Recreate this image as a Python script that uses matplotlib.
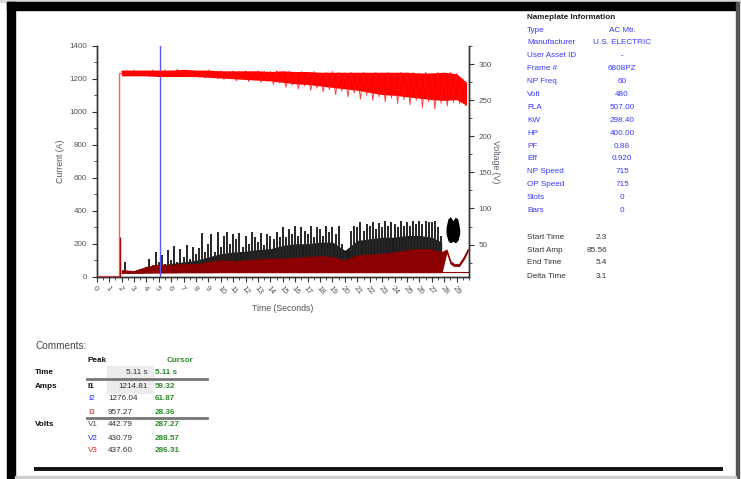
import numpy as np
import matplotlib
matplotlib.use("Agg")
import matplotlib.pyplot as plt
from matplotlib.patches import Rectangle
from matplotlib.ticker import MultipleLocator

plt.rcParams['font.family'] = ['Liberation Sans Narrow', 'Liberation Sans', 'DejaVu Sans']

# ---- data ----
# voltage band (V), one value per second
v_sec = [2, 3, 4, 5, 6, 7, 8, 9, 10, 11, 12, 13, 14, 15, 16, 17, 18, 19, 20,
         21, 22, 23, 24, 25, 26, 27, 28, 29, 29.8]
v_upper = [292, 292, 292, 292, 292, 293, 292, 292, 291, 291, 291, 291, 290, 291, 290,
           290, 289, 289, 289, 289, 289, 289, 289, 289, 288, 288, 289, 287, 275]
v_lower = [284, 284, 284, 283, 283, 283, 283, 282, 281, 280, 279, 278, 277, 275, 273,
           272, 270, 268, 266, 264, 261, 258, 257, 255, 253, 251, 250, 251, 243]
v_start_t = [0, 1.8, 1.8, 2.0]
v_start = [6, 6, 288, 288]

# fast grid (0.25 s) for spiky signals
t_fast = np.arange(2.0, 30.0, 0.25)
v_spikes = [290, 284, 291, 285, 292, 284, 290, 286, 291, 283, 292, 285,
            290, 284, 292, 283, 291, 285, 293, 284, 290, 283, 292, 284,
            291, 282, 290, 281, 292, 283, 290, 280, 291, 279, 290, 281,
            291, 277, 290, 279, 291, 276, 289, 278, 291, 275, 290, 276,
            290, 272, 291, 274, 289, 268, 290, 271, 289, 266, 290, 270,
            289, 264, 290, 267, 288, 262, 289, 265, 290, 258, 289, 263,
            288, 255, 289, 260, 288, 252, 289, 257, 287, 250, 289, 255,
            288, 248, 289, 253, 287, 246, 289, 251, 288, 244, 289, 250,
            288, 240, 289, 248, 287, 238, 289, 246, 288, 242, 289, 247,
            287, 245, 280, 243]
i1_peaks = [30, 90, 35, 30, 30, 35, 40, 45,
            60, 110, 70, 150, 90, 130, 80, 160, 100, 185, 90, 170,
            120, 190, 110, 180, 140, 175, 265, 150, 200, 260, 150, 270,
            180, 250, 270, 200, 260, 230, 265, 180, 250, 200, 270, 240,
            210, 265, 190, 260, 250, 230, 270, 240, 300, 240, 290, 260,
            305, 250, 300, 280, 260, 310, 240, 300, 290, 250, 310, 270,
            300, 260, 310, 200, 150, 120, 280, 310, 300, 330, 280, 320,
            310, 330, 290, 325, 300, 335, 310, 330, 320, 300, 335, 310,
            330, 310, 340, 320, 335, 320, 340, 330, 330, 340, 300, 250,
            30, 30, 30, 30, 30, 30, 30, 30]

# dense cores of the current traces (A), per second
i_sec = [2, 3, 4, 5, 6, 7, 8, 9, 10, 11, 12, 13, 14, 15, 16, 17, 18, 19, 20,
         21, 22, 23, 24, 25, 26, 27, 27.8]
i1_core = [35, 35, 55, 70, 80, 90, 100, 120, 140, 150, 155, 165, 170, 190, 200,
           200, 210, 210, 160, 220, 230, 240, 240, 250, 250, 240, 210]
i3_t = [2, 3, 4, 5, 6, 7, 8, 9, 10, 11, 12, 13, 14, 15, 16, 17, 18, 19, 20,
        21, 22, 23, 24, 25, 26, 27, 27.8, 28.2, 28.5, 28.8, 29.2, 29.6, 29.9]
i3_upper = [40, 35, 60, 75, 70, 80, 75, 90, 100, 95, 100, 105, 110, 110, 115, 120,
            125, 120, 100, 130, 135, 140, 150, 160, 170, 165, 150, 165, 95, 78, 78, 125, 170]
i3_lower = [22, 22, 24, 25, 25, 26, 26, 26, 27, 27, 27, 27, 27, 27, 27, 27, 27, 27,
            27, 27, 27, 27, 27, 27, 27, 27, 27, 150, 80, 64, 64, 108, 155]
blob_t = [28.15, 28.3, 28.5, 28.7, 28.9, 29.1, 29.25]
blob_upper = [300, 350, 365, 340, 362, 350, 290]
blob_lower = [260, 220, 205, 215, 205, 220, 260]
cursor_t = 5.11
inrush_t = 1.85
inrush_a = 240

# nameplate
np_labels = ["Type", "Manufacturer", "User Asset ID", "Frame #", "NP Freq", "Volt", "FLA",
             "KW", "HP", "PF", "Eff", "NP Speed", "OP Speed", "Slots", "Bars"]
np_values = ["AC Mtr.", "U.S. ELECTRIC", "-", "6808PZ", "60", "480", "507.00",
             "298.40", "400.00", "0.88", "0.920", "715", "715", "0", "0"]
st_labels = ["Start Time", "Start Amp", "End Time", "Delta Time"]
st_values = ["2.3", "85.56", "5.4", "3.1"]

# peak / cursor table
row_names = ["I1", "I2", "I3", "V1", "V2", "V3"]
row_colors = ["#111111", "#2b2bff", "#b02020", "#555555", "#2b2bff", "#ff1a1a"]
peak_vals = ["1214.81", "1276.04", "957.27", "442.79", "430.79", "437.60"]
cursor_vals = ["59.32", "61.87", "28.36", "287.27", "288.57", "286.31"]

W, H = 741, 479
fig = plt.figure(figsize=(W / 100, H / 100), dpi=100)

# page background / frame in pixel coordinates
bg = fig.add_axes([0, 0, 1, 1], zorder=0)
bg.set_xlim(0, W)
bg.set_ylim(H, 0)
bg.axis('off')
bg.add_patch(Rectangle((0, 0), W, 2, color='#d8d8d8'))
bg.add_patch(Rectangle((7, 2), 731, 8, color='black'))
bg.add_patch(Rectangle((7, 2), 8, 477, color='black'))
bg.add_patch(Rectangle((736, 2), 3, 477, color='#555555'))
bg.add_patch(Rectangle((15, 476), 721, 3, color='#cfcfcf'))
bg.plot([34, 723], [469, 469], color='#111111', lw=2.8, solid_capstyle='butt')

fs = 5.9
blue = '#3a3aff'
bg.text(527, 17, "Nameplate Information", fontsize=fs, fontweight='bold', color='#222222', va='center')
for k, (lab, val) in enumerate(zip(np_labels, np_values)):
    y = 30 + k * 12.9
    bg.text(527, y, lab, fontsize=fs, color=blue, va='center')
    bg.text(622, y, val, fontsize=fs, color=blue, va='center', ha='center')
for k, (lab, val) in enumerate(zip(st_labels, st_values)):
    y = 237 + k * 13
    bg.text(527, y, lab, fontsize=fs, color='#333333', va='center')
    bg.text(607, y, val, fontsize=fs, color='#333333', va='center', ha='right')

# comments / table
green = '#2e8b2e'
bg.text(35, 346, "Comments:", fontsize=7.2, color='#444444', va='center')
bg.text(88, 360, "Peak", fontsize=fs, fontweight='bold', color='#111111', va='center')
bg.text(167, 360, "Cursor", fontsize=fs, fontweight='bold', color=green, va='center')
bg.add_patch(Rectangle((107, 366), 46, 27, color='#ececec'))
bg.text(35, 373, "Time", fontsize=fs, fontweight='bold', color='#111111', va='center')
bg.text(148, 373, "5.11 s", fontsize=fs, color='#333333', va='center', ha='right')
bg.text(155, 373, "5.11 s", fontsize=fs, fontweight='bold', color=green, va='center')
bg.plot([87, 207], [379, 379], color='#777777', lw=2)
bg.plot([87, 207], [418, 418], color='#777777', lw=2)
bg.text(35, 386, "Amps", fontsize=fs, fontweight='bold', color='#111111', va='center')
bg.text(35, 425, "Volts", fontsize=fs, fontweight='bold', color='#111111', va='center')
row_y = [386, 399, 412, 425, 438, 451]
for k, y in enumerate(row_y):
    bg.text(88, y, row_names[k], fontsize=fs, color=row_colors[k], va='center',
            fontweight='bold' if k == 0 else 'normal')
    if k == 0:
        bg.text(148, y, peak_vals[k], fontsize=fs, color='#333333', va='center', ha='right')
    else:
        bg.text(108, y, peak_vals[k], fontsize=fs, color='#333333', va='center')
    bg.text(155, y, cursor_vals[k], fontsize=fs, fontweight='bold', color=green, va='center')

# ---- main chart ----
ax = fig.add_axes([96.7 / W, (H - 276.7) / H, (469 - 96.7) / W, 230.7 / H], zorder=2)
ax.set_facecolor('none')
ax2 = ax.twinx()

ax.set_xlim(0, 30)
ax.set_ylim(0, 1400)
ax2.set_ylim(5.4, 325.4)

# current traces
ax.plot([0, inrush_t], [1, 1], color='#b01010', lw=1)
ax.vlines([inrush_t], 0, [inrush_a], color='#a00000', lw=1)
ax.fill_between(i_sec, 28, i1_core, color='#1c1c1c', lw=0, zorder=1)
ax.vlines(t_fast, 28, i1_peaks, color='#262626', lw=1.4, zorder=1.5)
ax.fill_between(blob_t, blob_lower, blob_upper, color='black', lw=0)
ax.fill_between(i3_t, i3_lower, i3_upper, color='#8b0000', lw=0.6, edgecolor='#8b0000', zorder=3)
ax.plot([2, 29.9], [26, 26], color='#8b0000', lw=0.8, zorder=3)
ax.axvline(cursor_t, color='#5a5aff', lw=1, zorder=4)

# voltage traces
ax2.plot(v_start_t, v_start, color='#ff2020', lw=1, alpha=0.7)
ax2.fill_between(v_sec, v_lower, v_upper, color='#ff0000', lw=0)
ax2.plot(t_fast, v_spikes, color='#ff1010', lw=0.7, alpha=0.8)

# axes styling
for a in (ax, ax2):
    a.spines['top'].set_visible(False)
    for s in ('left', 'right', 'bottom'):
        a.spines[s].set_color('#333333')
        a.spines[s].set_linewidth(1)
ax.yaxis.set_major_locator(MultipleLocator(200))
ax.yaxis.set_minor_locator(MultipleLocator(100))
ax2.set_yticks([50, 100, 150, 200, 250, 300])
ax2.yaxis.set_minor_locator(MultipleLocator(25))
ax.set_xticks(range(0, 30))
ax.xaxis.set_minor_locator(MultipleLocator(0.5))
ax.tick_params(axis='both', which='major', labelsize=5.8, colors='#333333', labelcolor='#555555', length=3.5, width=0.8)
ax.tick_params(axis='both', which='minor', length=2, width=0.6, colors='#333333')
ax.tick_params(axis='x', pad=2)
ax2.tick_params(axis='y', which='major', labelsize=5.8, colors='#333333', labelcolor='#555555', length=3.5, width=0.8)
ax2.tick_params(axis='y', which='minor', length=2, width=0.6, colors='#333333')
plt.setp(ax.get_xticklabels(), rotation=-50, ha='left', rotation_mode='anchor')

ax.set_xlabel("Time (Seconds)", fontsize=6.3, color='#555555', labelpad=6)
ax.set_ylabel("Current (A)", fontsize=6.3, color='#555555', labelpad=3)
ax2.set_ylabel("Voltage (V)", fontsize=6.3, color='#556070', rotation=-90, labelpad=6)

fig.savefig("out.png", dpi=100)
